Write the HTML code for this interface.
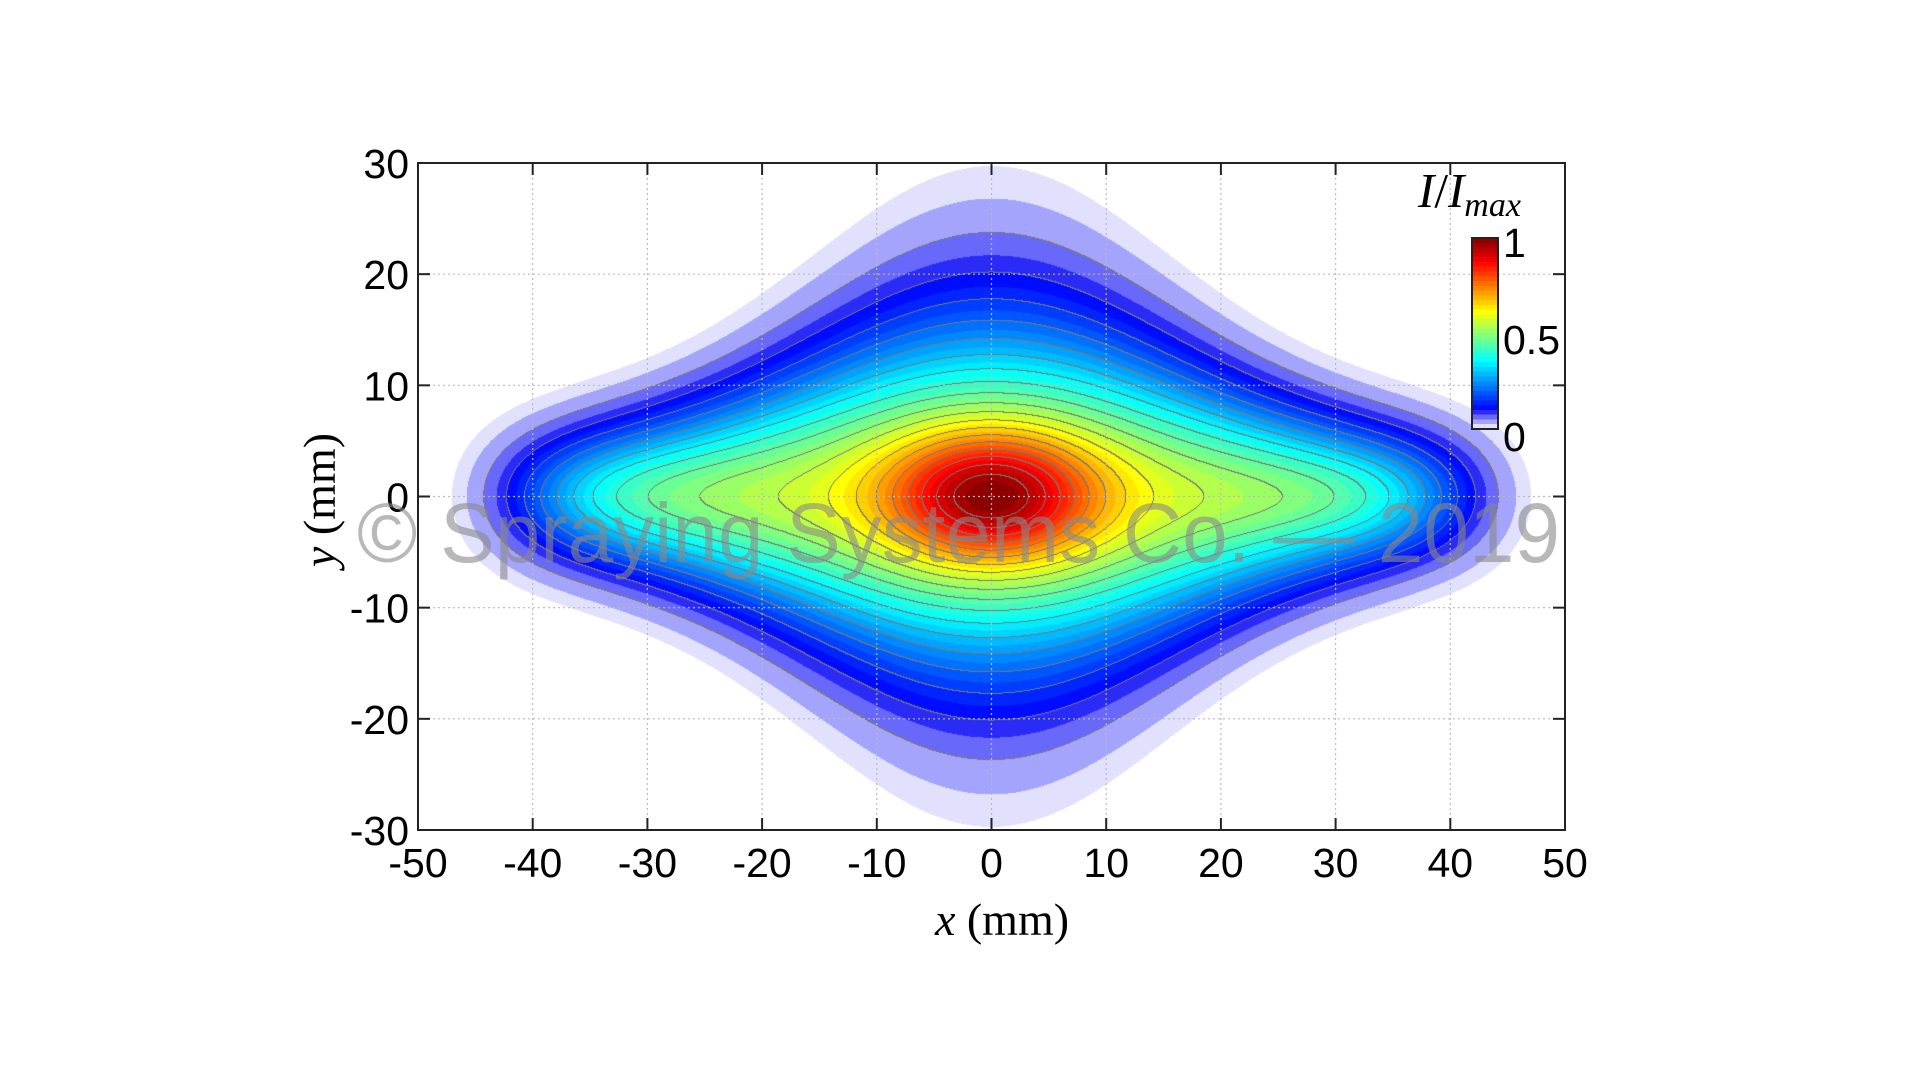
<!DOCTYPE html>
<html><head><meta charset="utf-8"><style>
html,body{margin:0;padding:0;background:#fff;width:1920px;height:1076px;overflow:hidden}
#c{position:absolute;left:0;top:0}
svg{position:absolute;left:0;top:0}
</style></head><body>
<canvas id="c" width="1920" height="1076"></canvas>
<svg width="1920" height="1076" xmlns="http://www.w3.org/2000/svg">
<g id="grid" stroke="#bbb" stroke-width="1.2" stroke-dasharray="2,3"></g>
<rect x="418" y="163" width="1147" height="667" fill="none" stroke="#222" stroke-width="2"/>
<g id="ticks" stroke="#222" stroke-width="2"></g>
<g font-family="Liberation Sans, sans-serif" font-size="41" fill="#000" id="lab"></g>
<rect x="1472" y="238" width="26" height="191" fill="url(#cb)" stroke="#222" stroke-width="2"/>
<defs><linearGradient id="cb" x1="0" y1="1" x2="0" y2="0"></linearGradient></defs>
<g font-family="Liberation Sans, sans-serif" font-size="41">
<text x="1503" y="257">1</text>
<text x="1503" y="354">0.5</text>
<text x="1503" y="451">0</text>
</g>
<text x="1418" y="207" font-family="Liberation Serif, serif" font-size="49" font-style="italic">I<tspan font-style="normal">/</tspan>I<tspan font-size="34" dy="9">max</tspan></text>
<text x="1002" y="935" text-anchor="middle" font-family="Liberation Serif, serif" font-size="46"><tspan font-style="italic">x</tspan> (mm)</text>
<text transform="translate(335,500) rotate(-90)" text-anchor="middle" font-family="Liberation Serif, serif" font-size="46"><tspan font-style="italic">y</tspan> (mm)</text>
<text x="357" y="562" textLength="1203" lengthAdjust="spacingAndGlyphs" font-family="Liberation Sans, sans-serif" font-size="84" fill="#888" fill-opacity="0.6">© Spraying Systems Co. — 2019</text>
</svg>
<script>
function jet(s){function c(v){return Math.max(0,Math.min(1,v));}
return [c(1.5-Math.abs(4*s-3)),c(1.5-Math.abs(4*s-2)),c(1.5-Math.abs(4*s-1))];}
function cmap(t){
 if(t<0.1){var f=t/0.1;return [1-f*0.95,1-f*0.95,1-f*0.03];}
 return jet(0.125+(t-0.1)/0.9*0.875);}
var L=418,T=163,W=1147,H=667;
var sx=W/100,sy=H/60;
function F(x,y){
 var a=(0.47+0.15*Math.exp(-(x/25)*(x/25)))*Math.exp(-Math.pow(x/40,8));
 var w=5+10*Math.exp(-(x/22)*(x/22));
 var B=a*Math.exp(-(y/w)*(y/w));
 var C=0.4*Math.exp(-(x/9)*(x/9)-(y/6)*(y/6));
 return B+C;}
var mx=F(0,0);
var ctx=document.getElementById('c').getContext('2d');
var img=ctx.createImageData(W,H);var d=img.data;
var V=new Float32Array(W*H);
for(var j=0;j<H;j++){var y=30-(j+0.5)/sy;for(var i=0;i<W;i++){var x=-50+(i+0.5)/sx;V[j*W+i]=F(x,y)/mx;}}
for(var j=0;j<H;j++)for(var i=0;i<W;i++){
 var v=V[j*W+i],p=(j*W+i)*4,col;
 if(v<0.012){col=[1,1,1];}
 else{var k=Math.floor(v/0.025);col=cmap(Math.min(1,(k+0.5)*0.025));}
 var q=Math.floor(v/0.05);
 var edge=false;
 if(v>0.03){
  if(i+1<W&&Math.floor(V[j*W+i+1]/0.05)!=q)edge=true;
  if(j+1<H&&Math.floor(V[(j+1)*W+i]/0.05)!=q)edge=true;
 }
 if(edge&&q>=0){col=[0.47,0.47,0.47];}
 d[p]=col[0]*255;d[p+1]=col[1]*255;d[p+2]=col[2]*255;d[p+3]=255;}
ctx.putImageData(img,L,T);
var NS='http://www.w3.org/2000/svg';
function el(n,a,p){var e=document.createElementNS(NS,n);for(var k in a)e.setAttribute(k,a[k]);p.appendChild(e);return e;}
var g=document.getElementById('grid'),tk=document.getElementById('ticks'),lab=document.getElementById('lab');
for(var v=-50;v<=50;v+=10){var X=L+(v+50)*sx;
 if(v>-50&&v<50){el('line',{x1:X,y1:T,x2:X,y2:T+H},g);
 el('line',{x1:X,y1:T,x2:X,y2:T+12},tk);el('line',{x1:X,y1:T+H,x2:X,y2:T+H-12},tk);}
 var t=el('text',{x:X,y:877,'text-anchor':'middle'},lab);t.textContent=v;}
for(var v=-30;v<=30;v+=10){var Y=T+(30-v)*sy;
 if(v>-30&&v<30){el('line',{x1:L,y1:Y,x2:L+W,y2:Y},g);
 el('line',{x1:L,y1:Y,x2:L+12,y2:Y},tk);el('line',{x1:L+W,y1:Y,x2:L+W-12,y2:Y},tk);}
 var t=el('text',{x:409,y:Y+15,'text-anchor':'end'},lab);t.textContent=v;}
var gr=document.getElementById('cb');
for(var k=0;k<40;k++){var c=cmap((k+0.5)*0.025);var s='rgb('+Math.round(c[0]*255)+','+Math.round(c[1]*255)+','+Math.round(c[2]*255)+')';
 el('stop',{offset:k/40,'stop-color':s},gr);el('stop',{offset:(k+1)/40,'stop-color':s},gr);}
</script>
</body></html>
